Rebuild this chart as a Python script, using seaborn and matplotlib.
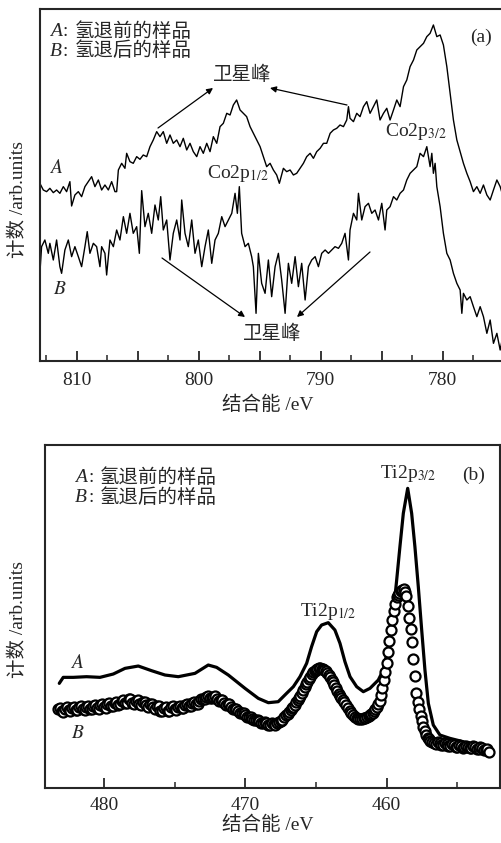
import numpy as np
import pandas as pd
import seaborn as sns
import matplotlib.pyplot as plt
from matplotlib.ticker import MultipleLocator, FuncFormatter

sns.set_style("ticks")
plt.rcParams["font.family"] = ["Liberation Serif", "Noto Sans CJK SC"]
plt.rcParams["mathtext.fontset"] = "stix"
plt.rcParams["axes.linewidth"] = 1.5

# === (a) Co2p 谱：能量 (eV) 与计数 (arb. units) ===
co_energy_A = [
    813.01, 812.73, 812.46, 812.19, 811.91, 811.64, 811.37, 811.09, 810.82, 810.55,
    810.41, 810.14, 809.86, 809.59, 809.32, 809.04, 808.77, 808.50, 808.22, 807.95,
    807.68, 807.40, 807.13, 806.86, 806.72, 806.58, 806.31, 806.04, 805.90, 805.63,
    805.36, 805.08, 804.81, 804.54, 804.26, 803.99, 803.72, 803.44, 803.17, 802.90,
    802.62, 802.35, 802.08, 801.80, 801.53, 801.26, 800.98, 800.71, 800.44, 800.16,
    799.89, 799.62, 799.34, 799.07, 798.80, 798.52, 798.25, 797.98, 797.70, 797.43,
    797.16, 796.89, 796.61, 796.34, 796.07, 795.79, 795.52, 795.25, 794.97, 794.70,
    794.43, 794.15, 793.88, 793.61, 793.39, 793.06, 792.79, 792.51, 792.24, 791.97,
    791.69, 791.42, 791.15, 790.87, 790.60, 790.33, 790.05, 789.78, 789.51, 789.23,
    788.96, 788.69, 788.42, 788.14, 787.87, 787.73, 787.60, 787.32, 787.05, 786.78,
    786.50, 786.23, 785.96, 785.68, 785.41, 785.14, 784.86, 784.59, 784.32, 784.04,
    783.77, 783.50, 783.22, 782.95, 782.68, 782.40, 782.13, 781.86, 781.58, 781.31,
    781.04, 780.77, 780.49, 780.22, 779.95, 779.67, 779.40, 779.13, 778.85, 778.58,
    778.31, 778.03, 777.76, 777.49, 777.21, 776.94, 776.67, 776.39, 776.12, 775.85,
    775.57, 775.30, 775.14,
]
co_counts_A = [
    550, 530, 525, 535, 522, 530, 520, 540, 525, 555,
    482, 515, 525, 510, 540, 555, 570, 540, 560, 530,
    545, 530, 555, 525, 525, 590, 610, 595, 640, 615,
    610, 630, 622, 635, 630, 660, 680, 705, 690, 705,
    670, 695, 670, 680, 660, 685, 650, 670, 645, 630,
    660, 640, 670, 645, 690, 670, 720, 730, 760, 755,
    785, 800, 770, 760, 750, 720, 700, 680, 660, 630,
    600, 610, 590, 575, 550, 595, 585, 590, 575, 580,
    595, 610, 630, 640, 625, 645, 655, 670, 670, 700,
    710, 715, 725, 720, 740, 780, 745, 735, 760, 750,
    780, 795, 760, 780, 800, 740, 760, 775, 740, 770,
    800, 780, 840, 860, 900, 920, 950, 960, 970, 990,
    1000, 1025, 990, 995, 965, 900, 820, 740, 680, 645,
    610, 580, 555, 525, 540, 520, 545, 515, 500, 530,
    560, 540, 520,
]
co_energy_B = [
    813.01, 812.87, 812.60, 812.32, 812.19, 811.91, 811.64, 811.37, 811.23, 810.96,
    810.68, 810.41, 810.14, 809.86, 809.59, 809.32, 809.13, 808.91, 808.63, 808.36,
    808.09, 807.95, 807.68, 807.54, 807.27, 806.99, 806.72, 806.45, 806.17, 805.90,
    805.63, 805.36, 805.08, 804.86, 804.67, 804.40, 804.13, 803.85, 803.58, 803.31,
    803.11, 802.90, 802.62, 802.35, 802.08, 801.80, 801.53, 801.39, 801.12, 800.85,
    800.57, 800.30, 800.03, 799.75, 799.48, 799.21, 798.93, 798.66, 798.39, 798.11,
    797.84, 797.57, 797.29, 797.02, 796.83, 796.67, 796.48, 796.20, 795.93, 795.66,
    795.52, 795.30, 795.11, 794.84, 794.56, 794.29, 794.02, 793.74, 793.47, 793.20,
    792.92, 792.65, 792.38, 792.10, 791.83, 791.56, 791.28, 791.01, 790.74, 790.46,
    790.19, 789.92, 789.64, 789.37, 789.10, 788.83, 788.55, 788.28, 788.01, 787.73,
    787.60, 787.32, 787.05, 786.91, 786.64, 786.37, 786.09, 785.82, 785.55, 785.27,
    785.00, 784.73, 784.59, 784.32, 784.04, 783.77, 783.50, 783.22, 782.95, 782.68,
    782.40, 782.13, 781.86, 781.58, 781.31, 781.04, 780.90, 780.77, 780.63, 780.49,
    780.22, 779.95, 779.67, 779.40, 779.13, 778.85, 778.58, 778.44, 778.31, 778.03,
    777.76, 777.49, 777.21, 776.94, 776.67, 776.39, 776.12, 775.85, 775.57, 775.30,
    775.14,
]
co_counts_B = [
    280, 360, 380, 340, 370, 320, 380, 300, 280, 350,
    380, 330, 360, 330, 300, 360, 405, 340, 370, 360,
    300, 360, 340, 275, 380, 360, 410, 380, 450, 400,
    460, 400, 420, 340, 528, 420, 460, 400, 485, 440,
    510, 410, 440, 320, 400, 440, 380, 500, 400, 360,
    440, 340, 380, 300, 360, 410, 310, 380, 400, 450,
    420, 440, 460, 520, 460, 540, 400, 360, 370, 330,
    300, 160, 340, 250, 220, 320, 210, 300, 340, 260,
    160, 310, 250, 330, 240, 310, 200, 300, 320, 330,
    300, 340, 350, 340, 350, 360, 355, 370, 400, 320,
    410, 460, 440, 520, 440, 480, 490, 460, 470, 440,
    490, 410, 470, 480, 510, 500, 520, 530, 560, 580,
    590, 600, 640, 630, 660, 600, 640, 580, 610, 540,
    480, 400, 340, 320, 280, 250, 230, 160, 220, 200,
    210, 180, 150, 180, 150, 100, 140, 70, 100, 50,
    80,
]

# === (b) Ti2p 谱 ===
ti_energy_A = [
    483.16, 482.88, 482.17, 481.23, 480.28, 479.34, 478.51, 477.57, 476.63, 475.68,
    474.74, 473.56, 472.62, 472.03, 471.20, 470.02, 469.08, 468.37, 467.67, 467.08,
    466.60, 466.13, 465.66, 465.31, 464.95, 464.60, 464.13, 463.66, 463.30, 462.95,
    462.59, 462.12, 461.65, 461.18, 460.59, 460.24, 459.88, 459.53, 459.29, 459.06,
    458.82, 458.51, 458.23, 458.00, 457.76, 457.52, 457.29, 457.05, 456.70, 456.23,
    455.52, 454.58, 453.63, 452.92,
]
ti_counts_A = [
    313, 331, 331, 333, 331, 341, 358, 365, 351, 338,
    333, 343, 368, 361, 338, 298, 268, 255, 258, 283,
    303, 333, 373, 423, 468, 488, 495, 473, 433, 378,
    333, 303, 288, 298, 323, 353, 423, 523, 623, 723,
    823, 898, 823, 723, 603, 473, 353, 253, 188, 158,
    148, 138, 128, 118,
]
ti_energy_B = [
    483.25, 483.0, 482.75, 482.5, 482.25, 482.0, 481.75, 481.5, 481.25, 481.0,
    480.75, 480.5, 480.25, 480.0, 479.75, 479.5, 479.25, 479.0, 478.75, 478.5,
    478.25, 478.0, 477.75, 477.5, 477.25, 477.0, 476.75, 476.5, 476.25, 476.0,
    475.75, 475.5, 475.25, 475.0, 474.75, 474.5, 474.25, 474.0, 473.75, 473.5,
    473.25, 473.0, 472.75, 472.5, 472.25, 472.0, 471.75, 471.5, 471.25, 471.0,
    470.75, 470.5, 470.25, 470.0, 469.75, 469.5, 469.25, 469.0, 468.75, 468.5,
    468.25, 468.0, 467.75, 467.5, 467.25, 467.0,
    466.9, 466.8, 466.7, 466.6, 466.5, 466.4, 466.3, 466.2, 466.1, 466.0,
    465.9, 465.8, 465.7, 465.6, 465.5, 465.4, 465.3, 465.2, 465.1, 465.0,
    464.9, 464.8, 464.7, 464.6, 464.5, 464.4, 464.3, 464.2, 464.1, 464.0,
    463.9, 463.8, 463.7, 463.6, 463.5, 463.4, 463.3, 463.2, 463.1, 463.0,
    462.75, 462.5, 462.25, 462.0, 461.75, 461.5, 461.25,
    461.1, 461.0, 460.9, 460.8, 460.7, 460.6, 460.5, 460.4, 460.3, 460.2,
    460.1, 460.0, 459.9, 459.8, 459.7, 459.6, 459.5, 459.4, 459.3, 459.2,
    459.1, 459.0, 458.9, 458.8, 458.7, 458.6, 458.5, 458.4, 458.3, 458.2,
    458.1, 458.0, 457.9, 457.8, 457.7, 457.6, 457.5, 457.4, 457.3, 457.2,
    457.1, 457.0, 456.9, 456.8,
    456.5, 456.25, 456.0, 455.75, 455.5, 455.25, 455.0, 454.75, 454.5, 454.25,
    454.0, 453.75, 453.5, 453.25, 453.0, 452.75,
]
ti_counts_B = [
    235, 231, 237, 233, 239, 234, 241, 235, 243, 237,
    245, 239, 247, 241, 251, 245, 255, 249, 261, 255,
    265, 255, 261, 251, 257, 247, 251, 241, 245, 231,
    239, 231, 241, 235, 243, 239, 249, 245, 255, 251,
    261, 265, 273, 269, 273, 265, 263, 255, 251, 243,
    237, 229, 225, 217, 213, 207, 203, 199, 195, 193,
    189, 191, 193, 199, 211, 221,
    226, 232, 238, 243, 249, 256, 262, 269, 276, 284,
    292, 301, 310, 318, 326, 333, 340, 346, 351, 354,
    356, 358, 358, 357, 355, 352, 349, 345, 339, 332,
    324, 316, 307, 299, 290, 282, 275, 268, 262, 256,
    239, 223, 213, 207, 207, 210, 216,
    221, 225, 230, 235, 242, 251, 260, 278, 299, 322,
    348, 373, 407, 441, 472, 502, 529, 550, 571, 579,
    584, 589, 593, 597, 588, 576, 544, 510, 476, 437,
    386, 335, 285, 257, 236, 216, 199, 182, 169, 157,
    149, 145, 141, 137,
    131, 133, 128, 130, 125, 127, 123, 126, 121, 123,
    119, 121, 117, 118, 113, 108,
]
# 曲线 B 的加密读数（数据点很密，圆圈互相重叠）
ti_energy_B_extra = [
    483.125, 482.875, 482.625, 482.375, 482.125, 481.875, 481.625, 481.375, 481.125, 480.875,
    480.625, 480.375, 480.125, 479.875, 479.625, 479.375, 479.125, 478.875, 478.625, 478.375,
    478.125, 477.875, 477.625, 477.375, 477.125, 476.875, 476.625, 476.375, 476.125, 475.875,
    475.625, 475.375, 475.125, 474.875, 474.625, 474.375, 474.125, 473.875, 473.625, 473.375,
    473.125, 472.875, 472.625, 472.375, 472.125, 471.875, 471.625, 471.375, 471.125, 470.875,
    470.625, 470.375, 470.125, 469.875, 469.625, 469.375, 469.125, 468.875, 468.625, 468.375,
    468.125, 467.875, 467.625, 467.375, 467.125,
    462.875, 462.625, 462.375, 462.125, 461.875, 461.625, 461.375, 461.175,
    456.65, 456.375, 456.125, 455.875, 455.625, 455.375, 455.125, 454.875, 454.625, 454.375,
    454.125, 453.875, 453.625, 453.375, 453.125, 452.875,
]
ti_counts_B_extra = [
    240, 228, 241, 230, 243, 232, 244, 233, 246, 235,
    248, 237, 250, 240, 254, 244, 258, 250, 264, 254,
    266, 252, 262, 248, 258, 243, 252, 237, 244, 229,
    241, 230, 244, 233, 246, 240, 252, 246, 258, 252,
    267, 266, 276, 268, 274, 260, 264, 249, 251, 236,
    237, 223, 225, 211, 213, 202, 204, 194, 197, 188,
    193, 189, 198, 203, 218,
    248, 231, 218, 210, 205, 209, 213, 219,
    134, 136, 127, 133, 124, 130, 122, 128, 120, 126,
    118, 124, 116, 121, 112, 115,
]

x_major_labels = [810, 800, 790, 780, 480, 470, 460]

W, H = 502, 843
fig = plt.figure(figsize=(W / 100, H / 100), dpi=100)


def fx(x):
    return x / W


def fy(y):
    return 1 - y / H


FS = 14

# ---------------- (a) ----------------
ax1 = fig.add_axes([fx(40), fy(361), fx(502) - fx(40), (361 - 9.3) / H])
df_a = pd.DataFrame({"E": co_energy_A, "I": co_counts_A})
df_b = pd.DataFrame({"E": co_energy_B, "I": co_counts_B})
sns.lineplot(data=df_a, x="E", y="I", ax=ax1, color="black", lw=1.0,
             sort=False, estimator=None)
sns.lineplot(data=df_b, x="E", y="I", ax=ax1, color="black", lw=1.0,
             sort=False, estimator=None)
ax1.set_xlim(813.0, 775.15)
ax1.set_ylim(17, 1072)
ax1.spines["right"].set_visible(False)

# ---------------- (b) ----------------
ax2 = fig.add_axes([fx(45), fy(787.7), fx(500) - fx(45), (787.7 - 445) / H])
df_c = pd.DataFrame({"E": ti_energy_A, "I": ti_counts_A})
df_d = pd.DataFrame({"E": ti_energy_B + ti_energy_B_extra,
                     "I": ti_counts_B + ti_counts_B_extra}).sort_values("E", ascending=False)
sns.lineplot(data=df_c, x="E", y="I", ax=ax2, color="black", lw=2.3,
             sort=False, estimator=None, zorder=2)
sns.scatterplot(data=df_d, x="E", y="I", ax=ax2, marker="o", s=52,
                color="white", edgecolor="black", linewidth=1.6, zorder=3)
ax2.set_xlim(484.17, 451.98)
ax2.set_ylim(0, 1028)

fmt = FuncFormatter(lambda v, p: f"{int(round(v))}" if int(round(v)) in x_major_labels else "")
for ax, maj, mnr, pad in [(ax1, 5, 2.5, 8), (ax2, 10, 5, 7)]:
    ax.xaxis.set_major_locator(MultipleLocator(maj))
    ax.xaxis.set_minor_locator(MultipleLocator(mnr))
    ax.xaxis.set_major_formatter(fmt)
    ax.tick_params(axis="x", which="major", direction="in", length=7, width=1.3,
                   labelsize=FS, pad=pad)
    ax.tick_params(axis="x", which="minor", direction="in", length=4, width=1.1)
    ax.set_yticks([])
    ax.set_xlabel("结合能 /eV", fontsize=FS)
    ax.set_ylabel("计数 /arb.units", fontsize=FS)

ax1.xaxis.set_label_coords(fx(268), fy(396), transform=fig.transFigure)
ax1.yaxis.set_label_coords(fx(27), fy(200), transform=fig.transFigure)
ax2.xaxis.set_label_coords(fx(268), fy(816), transform=fig.transFigure)
ax2.yaxis.set_label_coords(fx(27), fy(620), transform=fig.transFigure)


def sample_legend(x, y, letter, rest):
    fig.text(fx(x), fy(y), letter, fontsize=FS, va="center", style="italic",
             family="Liberation Serif")
    fig.text(fx(x + 13), fy(y), ":", fontsize=FS, va="center")
    fig.text(fx(x + 25), fy(y), rest, fontsize=FS, va="center")


# ---- 文字标注 (a) ----
sample_legend(50, 32, "A", "氢退前的样品")
sample_legend(50, 51, "B", "氢退后的样品")
fig.text(fx(481), fy(37), "(a)", fontsize=FS, ha="center", va="center")
fig.text(fx(242), fy(75), "卫星峰", fontsize=FS, ha="center", va="center")
fig.text(fx(272), fy(334), "卫星峰", fontsize=FS, ha="center", va="center")
fig.text(fx(385), fy(131), r"Co2p$_{3/2}$", fontsize=FS, va="center")
fig.text(fx(207), fy(174), r"Co2p$_{1/2}$", fontsize=FS, va="center")
fig.text(fx(56), fy(168), r"$A$", fontsize=FS, ha="center", va="center")
fig.text(fx(60), fy(289), r"$B$", fontsize=FS, ha="center", va="center")

arrow = dict(arrowstyle="-|>", lw=0.9, color="black", mutation_scale=9,
             shrinkA=0, shrinkB=0)
for (x0, y0), (x1, y1) in [((158, 128), (213, 88)), ((347, 105), (270, 88)),
                           ((162, 258), (245, 317)), ((370, 252), (297, 317))]:
    fig.add_artist(plt.Annotation("", xy=(fx(x1), fy(y1)), xytext=(fx(x0), fy(y0)),
                                  xycoords="figure fraction", textcoords="figure fraction",
                                  arrowprops=arrow))

# ---- 文字标注 (b) ----
sample_legend(75, 478, "A", "氢退前的样品")
sample_legend(75, 498, "B", "氢退后的样品")
fig.text(fx(474), fy(475), "(b)", fontsize=FS, ha="center", va="center")
fig.text(fx(380), fy(474), r"Ti2p$_{3/2}$", fontsize=FS, va="center")
fig.text(fx(300), fy(611), r"Ti2p$_{1/2}$", fontsize=FS, va="center")
fig.text(fx(77), fy(663), r"$A$", fontsize=FS, ha="center", va="center")
fig.text(fx(78), fy(733), r"$B$", fontsize=FS, ha="center", va="center")

fig.savefig("out.png", dpi=100)
